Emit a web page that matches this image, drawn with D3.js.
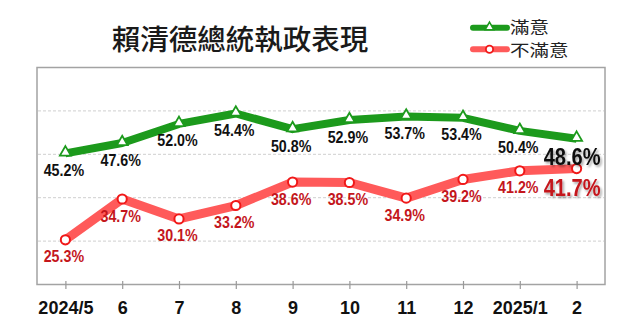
<!DOCTYPE html>
<html>
<head>
<meta charset="utf-8">
<script src="https://cdn.jsdelivr.net/npm/d3@7"></script>
<style>
  html, body { margin: 0; padding: 0; background: #fff; }
  svg { display: block; }
</style>
</head>
<body>
<svg id="chart" width="640" height="331"></svg>
<script>
// Monthly approval series for President Lai's administration
const months = ["2024/5", "6", "7", "8", "9", "10", "11", "12", "2025/1", "2"];
const satisfied = [45.2, 47.6, 52.0, 54.4, 50.8, 52.9, 53.7, 53.4, 50.4, 48.6];
const dissatisfied = [25.3, 34.7, 30.1, 33.2, 38.6, 38.5, 34.9, 39.2, 41.2, 41.7];
const gridValues = [25, 35, 45, 55];
const title = "賴清德總統執政表現";
const legendNames = ["滿意", "不滿意"];

const svg = d3.select("#chart");
const box = { left: 37, right: 605, top: 67.5, bottom: 284.5 };

const x = d3.scalePoint().domain(months).range([box.left, box.right]).padding(0.5);
const y = d3.scaleLinear().domain([15, 65]).range([box.bottom, box.top]);

const GREEN = "#1c9a1c";
const RED_LINE = "#ff5a5a";
const RED_MARK = "#f01818";
const RED_TEXT = "#c4161c";

// drop shadow for the latest-month labels
const defs = svg.append("defs");
const f = defs.append("filter").attr("id", "shadow")
  .attr("x", "-20%").attr("y", "-20%").attr("width", "150%").attr("height", "150%");
f.append("feDropShadow").attr("dx", 2).attr("dy", 2).attr("stdDeviation", 1)
  .attr("flood-color", "#000").attr("flood-opacity", 0.35);

// title
svg.append("text")
  .attr("x", 240).attr("y", 50)
  .attr("text-anchor", "middle")
  .attr("font-family", "'Noto Sans CJK TC', 'Noto Sans CJK SC', sans-serif")
  .attr("font-weight", 500)
  .attr("font-size", 28.5)
  .attr("fill", "#1a1a1a")
  .text(title);

// legend
const legend = [
  { name: legendNames[0], color: GREEN, y: 27.7, marker: "tri", dy: 5 },
  { name: legendNames[1], color: RED_LINE, y: 49.3, marker: "circ", dy: 7 }
];
legend.forEach(l => {
  svg.append("line")
    .attr("x1", 473).attr("x2", 507).attr("y1", l.y).attr("y2", l.y)
    .attr("stroke", l.color).attr("stroke-width", 6).attr("stroke-linecap", "round");
  if (l.marker === "tri") {
    svg.append("path")
      .attr("d", d3.symbol(d3.symbolTriangle, 34)())
      .attr("transform", `translate(489.5,${l.y - 0.5})`)
      .attr("fill", "#fff").attr("stroke", GREEN).attr("stroke-width", 1.5);
  } else {
    svg.append("circle").attr("cx", 489.5).attr("cy", l.y).attr("r", 3.6)
      .attr("fill", "#fff").attr("stroke", RED_MARK).attr("stroke-width", 1.8);
  }
  svg.append("text")
    .attr("transform", `translate(510,${l.y + l.dy}) scale(1.22,1)`)
    .attr("font-family", "'Noto Sans CJK TC', sans-serif")
    .attr("font-size", 16)
    .attr("fill", "#222")
    .text(l.name);
});

// plot frame
svg.append("rect")
  .attr("x", box.left).attr("y", box.top)
  .attr("width", box.right - box.left).attr("height", box.bottom - box.top)
  .attr("fill", "#fff").attr("stroke", "#a3a3a3").attr("stroke-width", 1.5);

// dashed gridlines
svg.append("g").selectAll("line").data(gridValues).join("line")
  .attr("x1", box.left + 1).attr("x2", box.right - 1)
  .attr("y1", d => y(d)).attr("y2", d => y(d))
  .attr("stroke", "#cfcfcf").attr("stroke-width", 1).attr("stroke-dasharray", "3,2");

// x axis ticks and labels
const xAxis = d3.axisBottom(x).tickSize(0).tickPadding(0);
const gx = svg.append("g").attr("transform", `translate(0,${box.bottom})`).call(xAxis);
gx.select(".domain").remove();
gx.selectAll(".tick").append("line")
  .attr("y1", -3.5).attr("y2", 4.5).attr("stroke", "#999").attr("stroke-width", 1.2);
gx.selectAll(".tick text")
  .attr("y", 29.5).attr("dy", null)
  .attr("font-family", "'Liberation Sans', Arial, sans-serif")
  .attr("font-weight", "bold").attr("font-size", 18).attr("fill", "#111");

// series lines
const line = d3.line().x((d, i) => x(months[i])).y(d => y(d));
svg.append("path").datum(dissatisfied).attr("d", line)
  .attr("fill", "none").attr("stroke", RED_LINE).attr("stroke-width", 9)
  .attr("stroke-linejoin", "round").attr("stroke-linecap", "round");
svg.append("path").datum(satisfied).attr("d", line)
  .attr("fill", "none").attr("stroke", GREEN).attr("stroke-width", 8)
  .attr("stroke-linejoin", "round").attr("stroke-linecap", "butt");

// markers
svg.append("g").selectAll("path").data(satisfied).join("path")
  .attr("d", d3.symbol(d3.symbolTriangle, 52)())
  .attr("transform", (d, i) => `translate(${x(months[i])},${y(d) - 1})`)
  .attr("fill", "#fff").attr("stroke", GREEN).attr("stroke-width", 1.8);
svg.append("g").selectAll("circle").data(dissatisfied).join("circle")
  .attr("cx", (d, i) => x(months[i])).attr("cy", d => y(d)).attr("r", 4.6)
  .attr("fill", "#fff").attr("stroke", RED_MARK).attr("stroke-width", 2);

// value labels
function labels(values, color) {
  const last = values.length - 1;
  values.forEach((v, i) => {
    const big = i === last;
    const cx = x(months[i]) - (big ? 4.5 : 1.5);
    const cy = y(v) + (big ? (color === GREEN ? 26 : 27) : 22.5);
    svg.append("text")
      .attr("transform", `translate(${cx},${cy}) scale(${big ? 0.82 : 0.84},1)`)
      .attr("text-anchor", "middle")
      .attr("font-family", "'Liberation Sans', Arial, sans-serif")
      .attr("font-weight", "bold")
      .attr("font-size", big ? 24.5 : 17)
      .attr("fill", color === GREEN ? "#111" : RED_TEXT)
      .attr("filter", big ? "url(#shadow)" : null)
      .text(v.toFixed(1) + "%");
  });
}
labels(satisfied, GREEN);
labels(dissatisfied, RED_TEXT);
</script>
</body>
</html>
